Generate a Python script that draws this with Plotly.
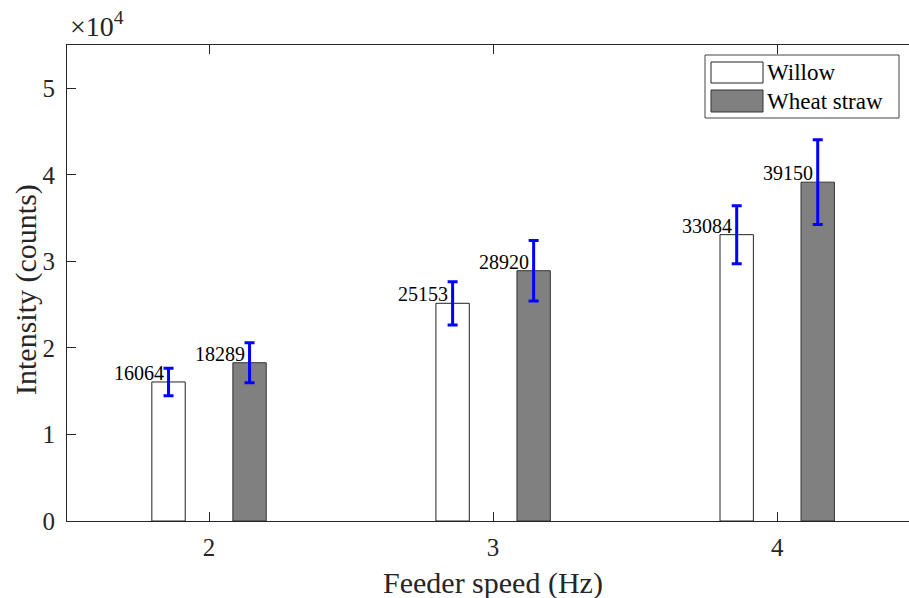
import plotly.graph_objects as go

# ---- data ----
feeder_speed = [2, 3, 4]
willow = [16064, 25153, 33084]
willow_err = [1580, 2500, 3350]
wheat = [18289, 28920, 39150]
wheat_err = [2310, 3500, 4900]
series_names = ["Willow", "Wheat straw"]
ytick_vals = [0, 10000, 20000, 30000, 40000, 50000]
ytick_text = ["0", "1", "2", "3", "4", "5"]

FONT = "Liberation Serif"
AX = "#262626"

W, H = 909, 598
ML, MR, MT, MB = 67, 0, 45, 77
PW, PH = W - ML - MR, H - MT - MB

bargap = 0.4296
bargroupgap = 0.588
slot = (1 - bargap) / 2
off = slot / 2

def px_x(p):
    return (p - ML) / PW

def px_y(p):
    return (H - MB - p) / PH

fig = go.Figure()
fig.add_trace(go.Bar(
    x=feeder_speed, y=willow, name=series_names[0],
    marker=dict(color="white", line=dict(color="#222222", width=1)),
    error_y=dict(type="data", array=willow_err, color="#0000FF", thickness=3, width=5),
    showlegend=False,
))
fig.add_trace(go.Bar(
    x=feeder_speed, y=wheat, name=series_names[1],
    marker=dict(color="#808080", line=dict(color="#333333", width=1)),
    error_y=dict(type="data", array=wheat_err, color="#0000FF", thickness=3, width=5),
    showlegend=False,
))

annotations = []
for xs, vals, sign in [(feeder_speed, willow, -1), (feeder_speed, wheat, 1)]:
    for xv, v in zip(xs, vals):
        annotations.append(dict(
            x=xv + sign * off, y=v, xref="x", yref="y", text=str(v),
            showarrow=False, xanchor="right", yanchor="bottom",
            xshift=-3, yshift=-4,
            font=dict(family=FONT, size=20, color="black"),
        ))

# exponent label
annotations.append(dict(
    x=0, y=1, xref="paper", yref="paper", text="×10<sup>4</sup>",
    showarrow=False, xanchor="left", yanchor="bottom", xshift=1, yshift=1,
    font=dict(family=FONT, size=28, color=AX),
))
# axis titles
annotations.append(dict(
    x=3, y=0, xref="x", yref="paper", text="Feeder speed (Hz)",
    showarrow=False, xanchor="center", yanchor="middle", yshift=-62,
    font=dict(family=FONT, size=30, color=AX),
))
annotations.append(dict(
    x=0, y=px_y(290), xref="paper", yref="paper", text="Intensity (counts)",
    showarrow=False, xanchor="center", yanchor="middle", xshift=-41,
    textangle=-90, font=dict(family=FONT, size=30, color=AX),
))

# legend (manual, MATLAB style)
shapes = []
shapes.append(dict(type="rect", xref="paper", yref="paper",
                   x0=px_x(705), x1=px_x(899), y0=px_y(118), y1=px_y(55),
                   line=dict(color="#444444", width=1), fillcolor="white", layer="above"))
shapes.append(dict(type="rect", xref="paper", yref="paper",
                   x0=px_x(711), x1=px_x(763), y0=px_y(83), y1=px_y(62),
                   line=dict(color="#222222", width=1), fillcolor="white", layer="above"))
shapes.append(dict(type="rect", xref="paper", yref="paper",
                   x0=px_x(711), x1=px_x(763), y0=px_y(112), y1=px_y(90),
                   line=dict(color="#333333", width=1), fillcolor="#808080", layer="above"))
for name, cy in zip(series_names, [72, 101]):
    annotations.append(dict(
        x=px_x(765), y=px_y(cy), xref="paper", yref="paper", text=name,
        showarrow=False, xanchor="left", yanchor="middle",
        font=dict(family=FONT, size=23, color="black"),
    ))

x_end = 2 + (W - 209) / 284.1
fig.update_layout(
    width=W, height=H,
    margin=dict(l=ML, r=MR, t=MT, b=MB, pad=0),
    paper_bgcolor="white", plot_bgcolor="white",
    barmode="group", bargap=bargap, bargroupgap=bargroupgap,
    font=dict(family=FONT, color=AX),
    annotations=annotations, shapes=shapes,
    xaxis=dict(
        range=[1.5, x_end], tickvals=feeder_speed, ticktext=[str(v) for v in feeder_speed],
        ticks="inside", ticklen=9, tickcolor=AX, tickwidth=1,
        showline=True, linecolor=AX, linewidth=1, mirror="ticks",
        showgrid=False, zeroline=False,
        tickfont=dict(family=FONT, size=25, color=AX), ticklabelstandoff=4,
    ),
    yaxis=dict(
        range=[0, 55000], tickvals=ytick_vals, ticktext=ytick_text,
        ticks="inside", ticklen=9, tickcolor=AX, tickwidth=1,
        showline=True, linecolor=AX, linewidth=1,
        showgrid=False, zeroline=False,
        tickfont=dict(family=FONT, size=25, color=AX), ticklabelstandoff=6,
    ),
)

fig.write_html("out.html")
